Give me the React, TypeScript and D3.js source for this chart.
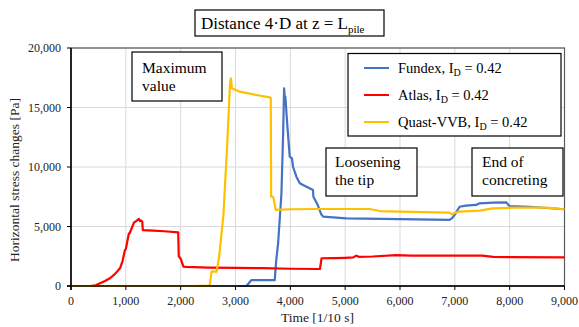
import React from "react";
import * as d3 from "d3";

const fundexT = [3050, 3200, 3230, 3291, 3500, 3716, 3740, 3777, 3838, 3870, 3886, 3900, 3910, 3930, 3947, 3989, 4030, 4050, 4111, 4172, 4232, 4414, 4420, 4500, 4566, 4600, 5021, 6000, 6904, 6950, 7000, 7086, 7200, 7391, 7450, 7700, 7936, 7996, 8361, 9000];
const fundexV = [0, 0, 170, 500, 500, 500, 2000, 3590, 7790, 13000, 16610, 15770, 15900, 14500, 13390, 10870, 10730, 10000, 9190, 8630, 8490, 8070, 7500, 6800, 6000, 5830, 5690, 5620, 5550, 5700, 6000, 6660, 6750, 6810, 6950, 7000, 7030, 6720, 6660, 6450];

const atlasT = [0, 350, 450, 530, 620, 710, 800, 893, 940, 984, 1000, 1056, 1070, 1148, 1200, 1239, 1260, 1280, 1300, 1310, 1500, 1700, 1955, 1965, 2000, 2050, 2100, 2500, 3000, 3500, 4000, 4500, 4540, 4570, 4800, 5000, 5150, 5200, 5250, 5500, 5932, 6200, 7000, 7500, 7700, 8000, 9000];
const atlasV = [0, 0, 60, 230, 420, 650, 1000, 1490, 2100, 3030, 3100, 4430, 4430, 5320, 5500, 5630, 5450, 5500, 5400, 4700, 4650, 4600, 4510, 2500, 2300, 1620, 1600, 1550, 1520, 1500, 1450, 1430, 1430, 2330, 2350, 2370, 2400, 2550, 2450, 2480, 2600, 2550, 2560, 2550, 2450, 2430, 2410];

const quastT = [0, 2228, 2500, 2532, 2563, 2654, 2700, 2780, 2850, 2900, 2915, 2935, 3079, 3383, 3625, 3643, 3650, 3685, 3700, 3734, 4000, 4500, 5447, 5630, 6000, 6904, 6950, 7000, 7086, 7450, 7693, 8057, 8664, 9000];
const quastV = [0, 0, 30, 100, 1200, 1200, 2400, 6000, 12000, 17000, 17450, 16610, 16330, 16050, 15850, 15800, 7500, 7500, 7230, 6390, 6450, 6470, 6470, 6300, 6250, 6160, 6020, 6150, 6250, 6330, 6530, 6580, 6580, 6450];

const seriesNames = ["Fundex", "Atlas", "Quast-VVB"];
const seriesColors = ["#4472C4", "#FF0000", "#FFC000"];
const xTicks = [0, 1000, 2000, 3000, 4000, 5000, 6000, 7000, 8000, 9000];
const yTicks = [0, 5000, 10000, 15000, 20000];

const W = 579;
const H = 327;
const L = 71, R = 564.5, T = 48, B = 286;
const FONT = "Liberation Serif, Times New Roman, DejaVu Serif, serif";
const ts = { fontFamily: FONT };

export default function App() {
  const x = d3.scaleLinear().domain([0, 9000]).range([L, R]);
  const y = d3.scaleLinear().domain([0, 20000]).range([B, T]);
  const fmt = d3.format(",");
  const line = d3
    .line<[number, number]>()
    .x((d) => x(d[0]))
    .y((d) => y(d[1]))
    .curve(d3.curveLinear);
  const data: [number, number][][] = [
    fundexT.map((t, i) => [t, fundexV[i]] as [number, number]),
    atlasT.map((t, i) => [t, atlasV[i]] as [number, number]),
    quastT.map((t, i) => [t, quastV[i]] as [number, number]),
  ];

  return (
    <svg
      width={W}
      height={H}
      style={{ position: "absolute", left: 0, top: 0, background: "#fff", fontFamily: FONT }}
    >
      <rect x={0} y={0} width={W} height={H} fill="#fff" />
      {xTicks.map((t) => (
        <line key={"gx" + t} x1={x(t)} x2={x(t)} y1={T} y2={B} stroke="#d9d9d9" strokeWidth={1} />
      ))}
      {yTicks.map((t) => (
        <line key={"gy" + t} x1={L} x2={R} y1={y(t)} y2={y(t)} stroke="#d9d9d9" strokeWidth={1} />
      ))}
      <rect x={L} y={T} width={R - L} height={B - T} fill="none" stroke="#595959" strokeWidth={1.2} />
      {data.map((d, i) => (
        <path key={i} d={line(d) || ""} fill="none" stroke={seriesColors[i]} strokeWidth={2.2} strokeLinejoin="round" />
      ))}
      <line x1={L} x2={L} y1={T} y2={B + 4} stroke="#000" strokeWidth={1.5} />
      <line x1={L - 4} x2={R} y1={B} y2={B} stroke="#000" strokeWidth={1.5} />
      {yTicks.map((t) => (
        <g key={"yt" + t}>
          <line x1={L - 4} x2={L} y1={y(t)} y2={y(t)} stroke="#000" />
          <text style={ts} x={L - 10} y={y(t) + 4} textAnchor="end" fontSize={12} fill="#222">
            {fmt(t)}
          </text>
        </g>
      ))}
      {xTicks.map((t) => (
        <g key={"xt" + t}>
          <line x1={x(t)} x2={x(t)} y1={B} y2={B + 4} stroke="#000" />
          <text style={ts} x={x(t)} y={305} textAnchor="middle" fontSize={12} fill="#222">
            {fmt(t)}
          </text>
        </g>
      ))}
      <text style={ts} x={317.5} y={322} textAnchor="middle" fontSize={13.5} fill="#222">
        Time [1/10 s]
      </text>
      <text style={ts} transform={`translate(19,180) rotate(-90)`} textAnchor="middle" fontSize={13.5} fill="#222">
        Horizontal stress changes  [Pa]
      </text>
      <rect x={195} y={10} width={189} height={26} fill="#fff" stroke="#000" strokeWidth={1.2} />
      <text style={ts} x={201} y={29} fontSize={17} fill="#000">
        Distance 4·D at z = L
        <tspan fontSize={11} dy={3.5}>pile</tspan>
      </text>
      <rect x={348} y={53.5} width={213} height={82.5} fill="#fff" stroke="#000" strokeWidth={1.2} />
      {seriesNames.map((n, i) => {
        const ly = 68 + i * 27;
        return (
          <g key={"lg" + i}>
            <line x1={364} x2={389} y1={ly} y2={ly} stroke={seriesColors[i]} strokeWidth={2} />
            <text style={ts} x={398} y={ly + 5} fontSize={14.5} fill="#000">
              {n}, I<tspan fontSize={10} dy={3}>D</tspan>
              <tspan dy={-3}> = 0.42</tspan>
            </text>
          </g>
        );
      })}
      <rect x={132} y={52} width={90} height={49} fill="#fff" stroke="#000" strokeWidth={1.2} />
      <text style={ts} x={142} y={73} fontSize={15.5} fill="#000">Maximum</text>
      <text style={ts} x={142} y={91} fontSize={15.5} fill="#000">value</text>

      <rect x={326} y={148} width={91} height={48} fill="#fff" stroke="#000" strokeWidth={1.2} />
      <text style={ts} x={335} y={167} fontSize={15.5} fill="#000">Loosening</text>
      <text style={ts} x={335} y={185} fontSize={15.5} fill="#000">the tip</text>

      <rect x={472} y={148} width={91} height={48} fill="#fff" stroke="#000" strokeWidth={1.2} />
      <text style={ts} x={482} y={167} fontSize={15.5} fill="#000">End of</text>
      <text style={ts} x={482} y={185} fontSize={15.5} fill="#000">concreting</text>
    </svg>
  );
}
